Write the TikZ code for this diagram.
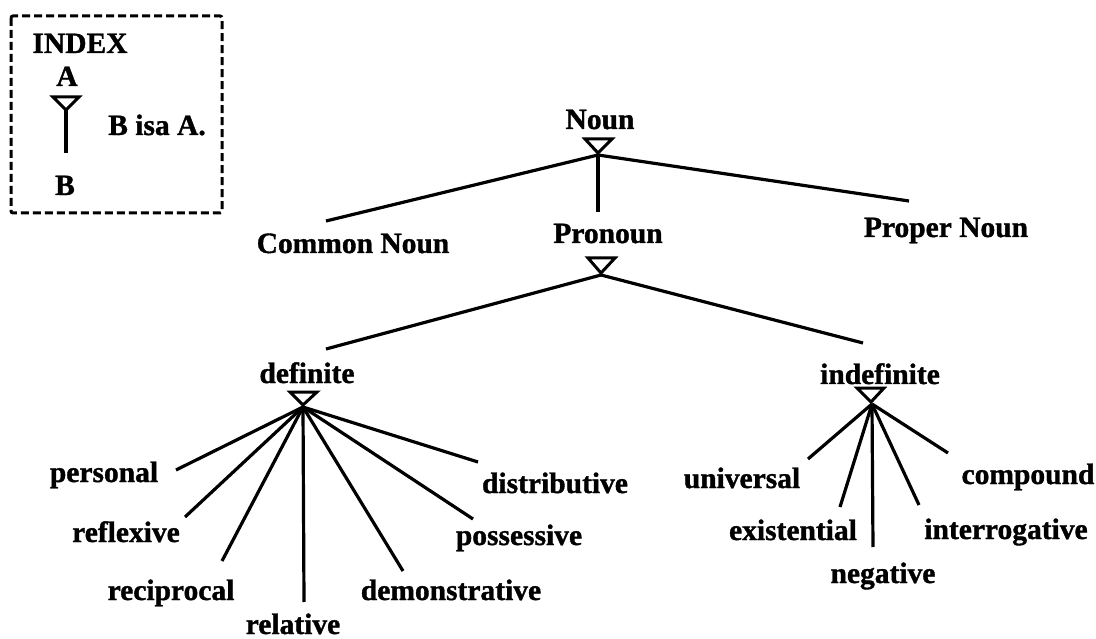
\documentclass[tikz,border=0pt]{standalone}
\usepackage{fontspec}
\setmainfont{Liberation Serif}[BoldFont={Liberation Serif Bold}, BoldFeatures={FakeBold=1.2}]
\begin{document}
\begin{tikzpicture}[x=1pt,y=-1pt,
  lbl/.style={font=\fontsize{29.5}{31}\selectfont\bfseries, inner sep=0pt, anchor=base},
  edge/.style={line width=3.2pt, line cap=butt},
  tri/.style={line width=3pt, line join=miter},
  idxbox/.style={line width=3pt, dash pattern=on 8pt off 4pt, rounded corners=2pt}]
\useasboundingbox (0,0) rectangle (1096,639);
% index box
\draw[idxbox] (11,16) rectangle (222,213);
\node[lbl] (index) at (80,53) {INDEX};
\node[lbl] (ia) at (67,86) {A};
\node[lbl] (ib) at (65,195) {B};
\node[lbl] (isa) at (157,135) {B isa A.};
\coordinate (iapex) at (66,110);
\coordinate (iend) at (66,153);
\draw[tri] (53,97) -- (79,97) -- (iapex) -- cycle;
\draw[edge] (iapex) -- (iend);
% labels
\node[lbl] (noun) at (600,129) {Noun};
\node[lbl] (common) at (353,253) {Common Noun};
\node[lbl] (pronoun) at (608,243) {Pronoun};
\node[lbl] (proper) at (946,237) {Proper Noun};
\node[lbl] (definite) at (307,383) {definite};
\node[lbl] (indefinite) at (880,384) {indefinite};
\node[lbl] (personal) at (104,482) {personal};
\node[lbl] (reflexive) at (126,542) {reflexive};
\node[lbl] (reciprocal) at (171,600) {reciprocal};
\node[lbl] (relative) at (293,634) {relative};
\node[lbl] (demonstrative) at (451,600) {demonstrative};
\node[lbl] (possessive) at (519,545) {possessive};
\node[lbl] (distributive) at (555,493) {distributive};
\node[lbl] (universal) at (742,488) {universal};
\node[lbl] (existential) at (793,540) {existential};
\node[lbl] (negative) at (883,583) {negative};
\node[lbl] (interrogative) at (1006,539) {interrogative};
\node[lbl] (compound) at (1028,484) {compound};
% triangles and junctions
\draw[tri] (585,139) -- (612,139) -- (598,153) -- cycle;
\coordinate (jnoun) at (598,155);
\draw[tri] (588,258) -- (615,258) -- (601,273) -- cycle;
\coordinate (jpron) at (601,275);
\draw[tri] (290,392) -- (317,392) -- (303,405) -- cycle;
\coordinate (jdef) at (303,407);
\draw[tri] (857,388) -- (884,388) -- (871,402) -- cycle;
\coordinate (jindef) at (872,404);
% end points
\coordinate (eCommon) at (326,221);
\coordinate (ePronoun) at (598,212);
\coordinate (eProper) at (909,201);
\coordinate (eDef) at (326,349);
\coordinate (eIndef) at (863,343);
\coordinate (ePers) at (176,470);
\coordinate (eRefl) at (185,517);
\coordinate (eRecip) at (222,561);
\coordinate (eRel) at (304,602);
\coordinate (eDemo) at (403,571);
\coordinate (ePoss) at (473,519);
\coordinate (eDist) at (478,462);
\coordinate (eUniv) at (808,459);
\coordinate (eExist) at (840,507);
\coordinate (eNeg) at (873,547);
\coordinate (eInter) at (919,505);
\coordinate (eComp) at (948,453);
% connectors
\draw[edge] (jnoun) -- (eCommon);
\draw[edge] (jnoun) -- (ePronoun);
\draw[edge] (jnoun) -- (eProper);
\draw[edge] (jpron) -- (eDef);
\draw[edge] (jpron) -- (eIndef);
\foreach \e in {ePers,eRefl,eRecip,eRel,eDemo,ePoss,eDist}
  \draw[edge] (jdef) -- (\e);
\foreach \e in {eUniv,eExist,eNeg,eInter,eComp}
  \draw[edge] (jindef) -- (\e);
\end{tikzpicture}
\end{document}
